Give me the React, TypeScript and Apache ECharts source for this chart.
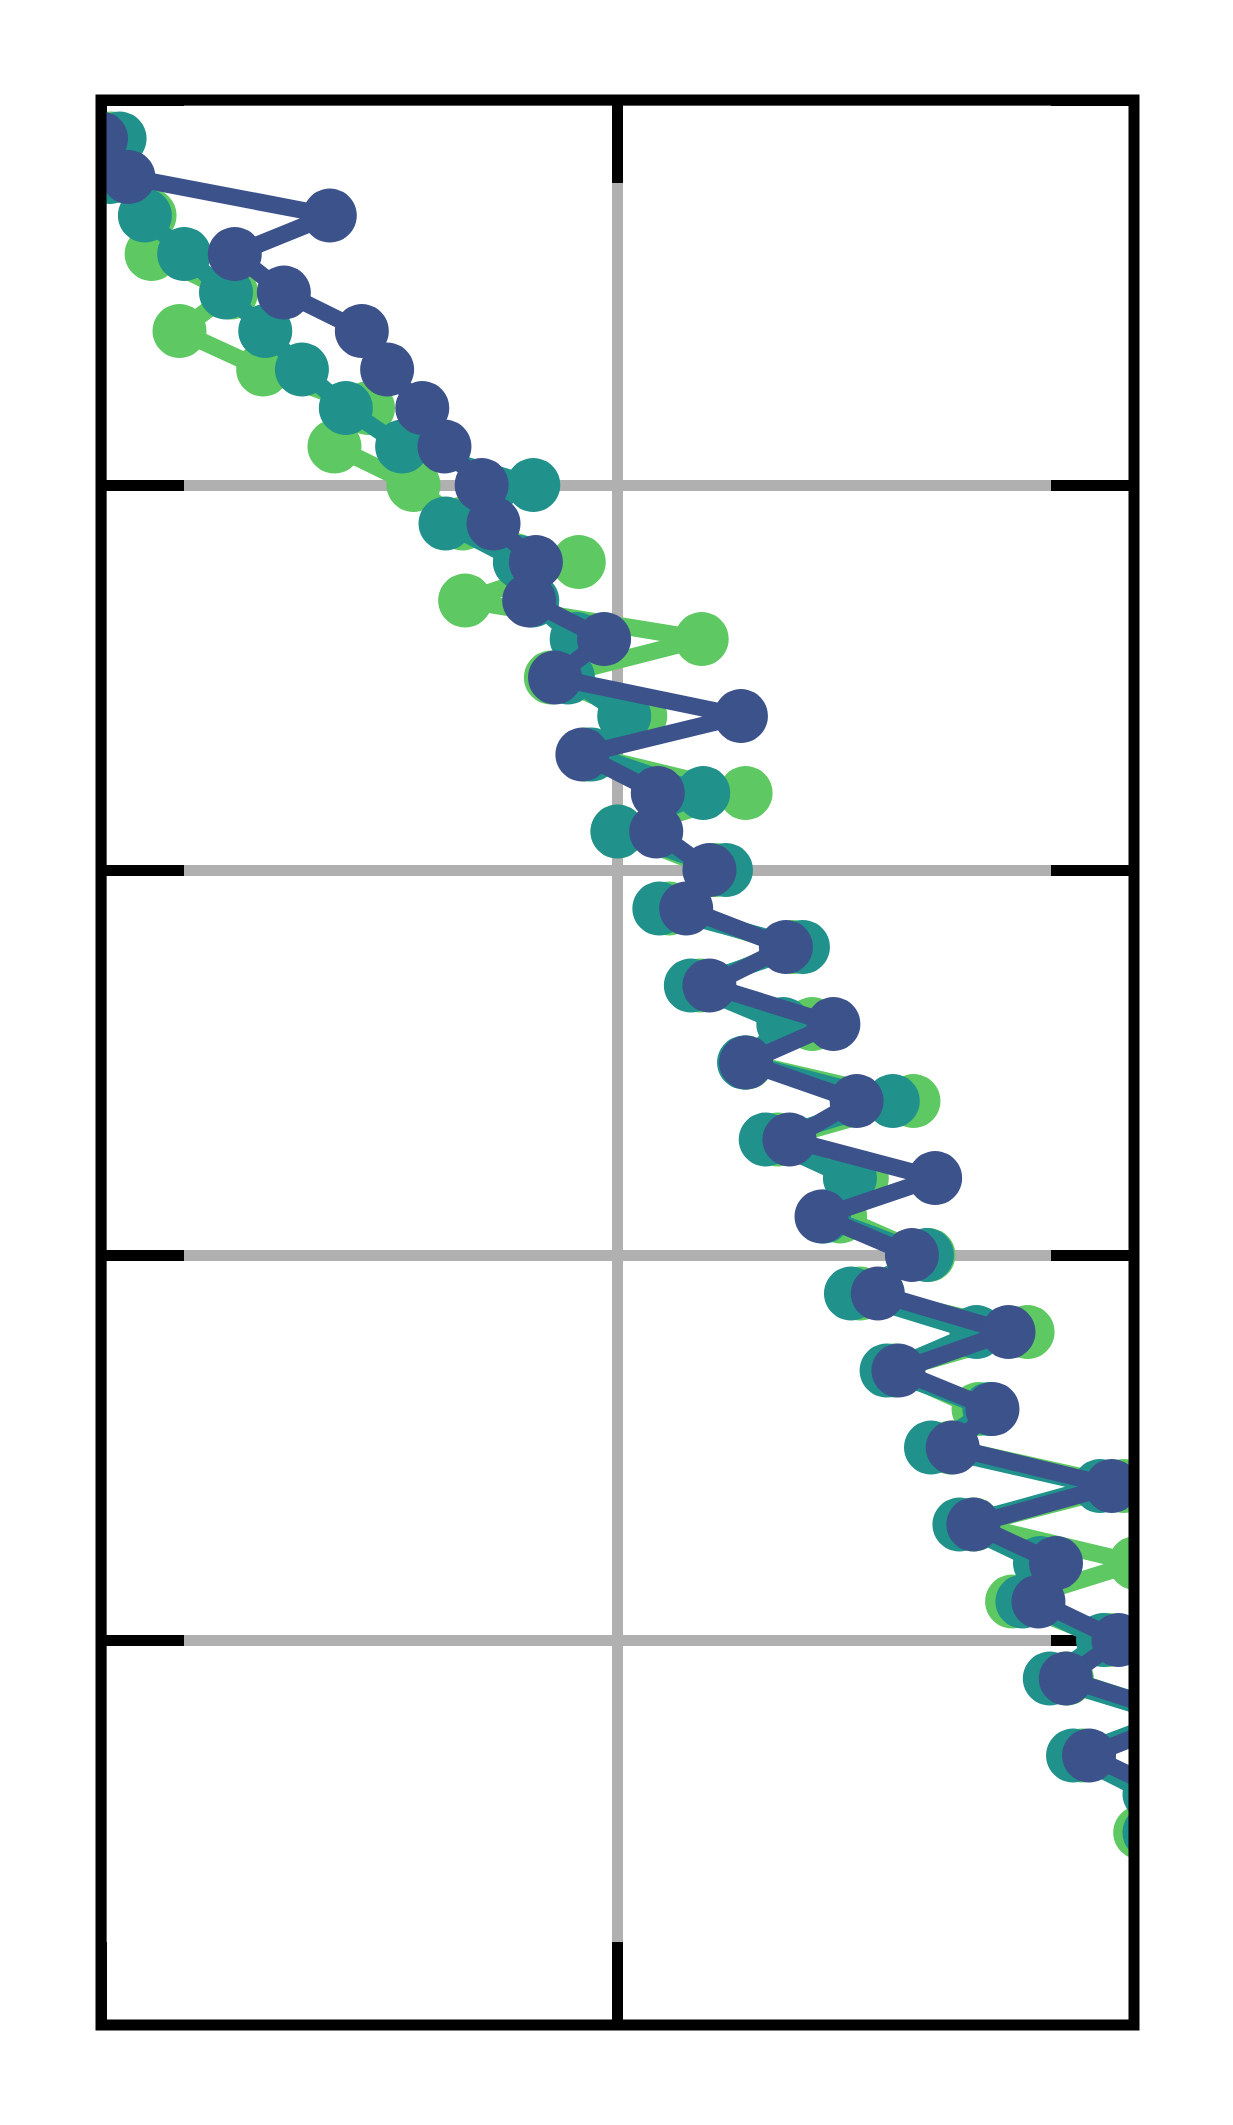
import React, { useEffect, useRef } from 'react';
import * as echarts from 'echarts';

// Row positions (y, inverted axis: 0 at top, 50 at bottom)
const rows = [
  1, 2, 3, 4, 5, 6, 7, 8, 9, 10,
  11, 12, 13, 14, 15, 16, 17, 18, 19, 20,
  21, 22, 23, 24, 25, 26, 27, 28, 29, 30,
  31, 32, 33, 34, 35, 36, 37, 38, 39, 40,
  41, 42, 43, 44, 45,
];

// x values (axis 0..2)
const greenValues = [
  0.02, 0.05, 0.094, 0.098, 0.252, 0.152, 0.314, 0.517, 0.452, 0.605,
  0.70, 0.925, 0.705, 1.163, 0.871, 1.044, 0.94, 1.248, 1.0, 1.19,
  1.10, 1.34, 1.16, 1.377, 1.25, 1.573, 1.31, 1.473, 1.431, 1.602,
  1.47, 1.794, 1.535, 1.699, 1.645, 1.98, 1.69, 2.003, 1.764, 1.95,
  1.87, 2.1, 1.9, 2.04, 2.012,
];

const tealValues = [
  0.036, 0.017, 0.085, 0.161, 0.242, 0.318, 0.389, 0.474, 0.583, 0.837,
  0.667, 0.811, 0.835, 0.921, 0.904, 1.013, 0.95, 1.166, 1.0, 1.21,
  1.081, 1.359, 1.142, 1.321, 1.245, 1.533, 1.287, 1.45, 1.40, 1.599,
  1.452, 1.695, 1.521, 1.72, 1.607, 1.934, 1.662, 1.818, 1.784, 1.94,
  1.837, 2.08, 1.882, 2.03, 2.03,
];

const blueValues = [
  0.0, 0.053, 0.443, 0.259, 0.354, 0.505, 0.554, 0.622, 0.665, 0.737,
  0.76, 0.842, 0.829, 0.974, 0.879, 1.239, 0.932, 1.078, 1.075, 1.178,
  1.133, 1.326, 1.178, 1.418, 1.249, 1.463, 1.333, 1.615, 1.395, 1.57,
  1.504, 1.757, 1.544, 1.726, 1.649, 1.957, 1.689, 1.849, 1.815, 1.97,
  1.868, 2.1, 1.913, 2.07, 2.1,
];

const seriesList = [
  { name: 'A', color: '#5ec962', values: greenValues, z: 2 },
  { name: 'B', color: '#21918c', values: tealValues, z: 3 },
  { name: 'C', color: '#3b528b', values: blueValues, z: 4 },
];

const xRange = { min: 0, max: 2, interval: 1 };
const yRange = { min: 0, max: 50, interval: 10 };

export default function App() {
  const ref = useRef<HTMLDivElement>(null);

  useEffect(() => {
    document.body.style.margin = '0';
    const chart = echarts.init(ref.current!, null, { renderer: 'svg' });

    const W = 1233;
    const H = 2125;
    const gl = 101, gr = 99, gt = 100, gb = 100;

    const base: any = {
      type: 'value',
      axisLabel: { show: false },
      axisLine: { show: false, onZero: false },
      axisTick: { show: false },
      splitLine: { show: false },
    };
    const gridLine = { show: true, lineStyle: { color: '#b0b0b0', width: 11 } };
    const tick = { show: true, inside: true, length: 83, lineStyle: { color: '#000', width: 11 } };

    const option: any = {
      animation: false,
      backgroundColor: '#ffffff',
      grid: {
        show: false,
        left: gl,
        right: gr,
        top: gt,
        bottom: gb,
      },
      xAxis: [
        { ...base, ...xRange, position: 'bottom', splitLine: gridLine, z: 0 },
        { ...base, ...xRange, position: 'bottom', axisTick: tick, z: 1 },
        { ...base, ...xRange, position: 'top', axisTick: tick, z: 1 },
      ],
      yAxis: [
        { ...base, ...yRange, inverse: true, position: 'left', splitLine: gridLine, z: 0 },
        { ...base, ...yRange, inverse: true, position: 'left', axisTick: tick, z: 1 },
        { ...base, ...yRange, inverse: true, position: 'right', axisTick: tick, z: 1 },
      ],
      graphic: [
        { type: 'rect', silent: true, z: 5, shape: { x: 0, y: 0, width: gl, height: H }, style: { fill: '#ffffff' } },
        { type: 'rect', silent: true, z: 5, shape: { x: W - gr, y: 0, width: gr, height: H }, style: { fill: '#ffffff' } },
        { type: 'rect', silent: true, z: 5, shape: { x: 0, y: 0, width: W, height: gt }, style: { fill: '#ffffff' } },
        { type: 'rect', silent: true, z: 5, shape: { x: 0, y: H - gb, width: W, height: gb }, style: { fill: '#ffffff' } },
        {
          type: 'rect',
          silent: true,
          z: 10,
          shape: { x: gl, y: gt, width: W - gl - gr, height: H - gt - gb },
          style: { fill: 'none', stroke: '#000000', lineWidth: 11 },
        },
      ],
      series: seriesList.map((s) => ({
        name: s.name,
        type: 'line',
        xAxisIndex: 0,
        yAxisIndex: 0,
        data: s.values.map((v, i) => [v, rows[i]]),
        symbol: 'circle',
        symbolSize: 54,
        showSymbol: true,
        showAllSymbol: true,
        clip: false,
        z: s.z,
        lineStyle: { color: s.color, width: 17 },
        itemStyle: { color: s.color, borderWidth: 0 },
        emphasis: { disabled: true },
      })),
    };

    chart.setOption(option);
    return () => chart.dispose();
  }, []);

  return <div ref={ref} style={{ width: 1233, height: 2125 }} />;
}
